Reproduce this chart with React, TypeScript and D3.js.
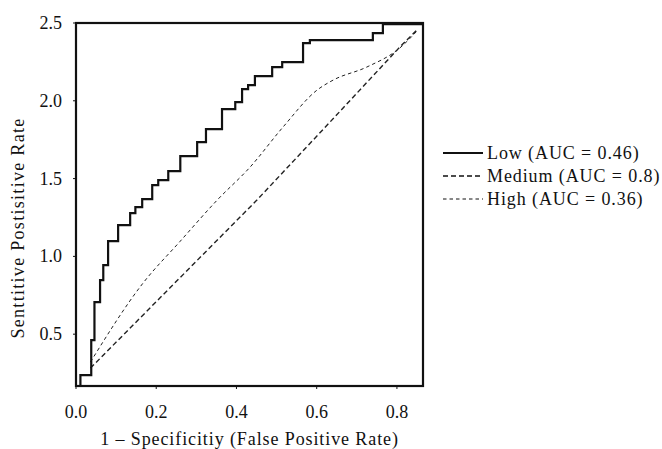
import React from "react";
import * as d3 from "d3";

const lowFpr = [0, 0.011, 0.038, 0.046, 0.06, 0.068, 0.08, 0.105, 0.135, 0.148, 0.165, 0.19, 0.205, 0.23, 0.26, 0.302, 0.324, 0.364, 0.397, 0.414, 0.429, 0.446, 0.489, 0.514, 0.566, 0.583, 0.74, 0.765, 0.865];
const lowTpr = [0.167, 0.237, 0.462, 0.706, 0.848, 0.944, 1.098, 1.201, 1.278, 1.317, 1.368, 1.458, 1.49, 1.548, 1.645, 1.735, 1.818, 1.947, 1.992, 2.075, 2.101, 2.159, 2.217, 2.249, 2.371, 2.39, 2.435, 2.493, 2.493];

const medFpr = [0.036, 0.451, 0.633, 0.807, 0.852];
const medTpr = [0.282, 1.362, 1.863, 2.345, 2.461];

const highFpr = [0.036, 0.167, 0.26, 0.352, 0.434, 0.516, 0.601, 0.641, 0.725, 0.807, 0.852];
const highTpr = [0.321, 0.828, 1.098, 1.362, 1.574, 1.831, 2.069, 2.133, 2.217, 2.339, 2.454];

const xTicks = [0, 0.2, 0.4, 0.6, 0.8];
const yTicks = [0.5, 1.0, 1.5, 2.0, 2.5];
const legendLabels = ["Low (AUC = 0.46)", "Medium (AUC = 0.8)", "High (AUC = 0.36)"];
const xTitle = "1 – Specificitiy (False Positive Rate)";
const yTitle = "Senttitive Postisitive Rate";

const W = 662, H = 449;
const left = 76, right = 423, top = 23, bottom = 386;
const font = "'Liberation Serif', 'Times New Roman', serif";

export default function App() {
  const x = d3.scaleLinear().domain([0, 0.865]).range([left, right]);
  const y = d3.scaleLinear().domain([0.167, 2.5]).range([bottom, top]);

  const zip = (a: number[], b: number[]) => a.map((v, i) => [v, b[i]] as [number, number]);

  const lowPath = d3.line<[number, number]>().x(d => x(d[0])).y(d => y(d[1])).curve(d3.curveStepAfter)(zip(lowFpr, lowTpr)) || "";
  const medPath = d3.line<[number, number]>().x(d => x(d[0])).y(d => y(d[1])).curve(d3.curveLinear)(zip(medFpr, medTpr)) || "";
  const highPath = d3.line<[number, number]>().x(d => x(d[0])).y(d => y(d[1])).curve(d3.curveMonotoneX)(zip(highFpr, highTpr)) || "";

  const styles = [
    { w: 2.2, dash: "none" },
    { w: 1.4, dash: "5,3" },
    { w: 1.0, dash: "3.5,3" },
  ];
  const legendY = [153, 176, 199];

  return (
    <svg width={W} height={H} style={{ position: "absolute", left: 0, top: 0, background: "#fff" }} fontFamily={font}>
      <rect x={0} y={0} width={W} height={H} fill="#fff" />
      <path d={highPath} fill="none" stroke="#222" strokeWidth={styles[2].w} strokeDasharray={styles[2].dash} />
      <path d={medPath} fill="none" stroke="#222" strokeWidth={styles[1].w} strokeDasharray={styles[1].dash} />
      <path d={lowPath} fill="none" stroke="#111" strokeWidth={styles[0].w} strokeLinejoin="miter" />
      <rect x={left} y={top} width={right - left} height={bottom - top} fill="none" stroke="#111" strokeWidth={2.2} />
      {xTicks.map((t) => (
        <g key={"x" + t}>
          <line x1={x(t)} x2={x(t)} y1={bottom} y2={bottom + 3} stroke="#111" strokeWidth={1} />
          <text x={x(t)} y={418} textAnchor="middle" fontSize={18} fill="#111">{t.toFixed(1)}</text>
        </g>
      ))}
      {yTicks.map((t) => (
        <g key={"y" + t}>
          <line x1={left - 3} x2={left} y1={y(t)} y2={y(t)} stroke="#111" strokeWidth={1} />
          <text x={62} y={y(t) + 6} textAnchor="end" fontSize={18} fill="#111">{t.toFixed(1)}</text>
        </g>
      ))}
      <text x={(left + right) / 2} y={445} textAnchor="middle" fontSize={18} letterSpacing={0.9} fill="#111">{xTitle}</text>
      <text transform={`translate(24,228) rotate(-90)`} textAnchor="middle" fontSize={18} letterSpacing={1.3} fill="#111">{yTitle}</text>
      {legendLabels.map((lab, i) => (
        <g key={lab}>
          <line x1={443} x2={483} y1={legendY[i]} y2={legendY[i]} stroke="#111" strokeWidth={styles[i].w} strokeDasharray={styles[i].dash} />
          <text x={487} y={legendY[i] + 6} fontSize={18} letterSpacing={0.9} fill="#111">{lab}</text>
        </g>
      ))}
    </svg>
  );
}
